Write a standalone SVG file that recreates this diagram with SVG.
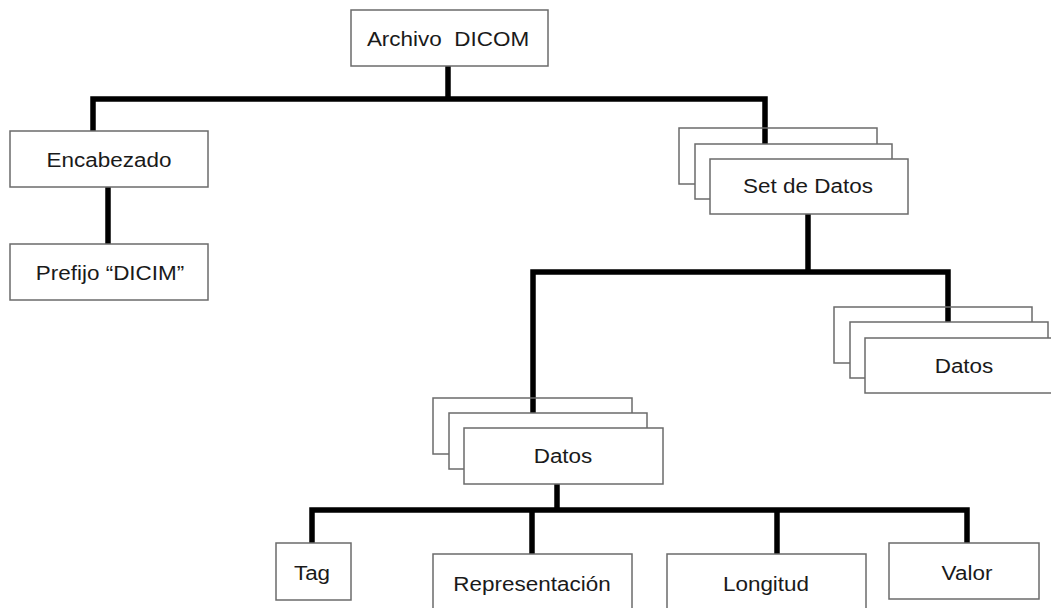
<svg xmlns="http://www.w3.org/2000/svg" width="1051" height="608" viewBox="0 0 1051 608">
<style>
.bx{fill:#fff;stroke:#6b6b6b;stroke-width:1.5}
.bk{fill:none;stroke:#6b6b6b;stroke-width:1.5}
.ln{fill:none;stroke:#000;stroke-width:5.5;stroke-linejoin:miter;stroke-linecap:butt}
.t{font-family:"Liberation Sans",Arial,sans-serif;font-size:21px;fill:#1a1a1a;text-anchor:middle}
</style>
<rect width="1051" height="608" fill="#fff"/>
<g id="connectors">
<path class="ln" d="M93,131 V99 H765 V144"/>
<path class="ln" d="M448,66 V99"/>
<path class="ln" d="M108,187 V244"/>
<path class="ln" d="M808,214 V272"/>
<path class="ln" d="M533,413 V272 H948 V322"/>
<path class="ln" d="M557,484 V510"/>
<path class="ln" d="M312,543 V510 H967 V543"/>
<path class="ln" d="M532,554 V510"/>
<path class="ln" d="M777,554 V510"/>
</g>
<g id="archivo">
<rect class="bx" x="351" y="10" width="197" height="56"/>
<g transform="translate(448,46) scale(1.07 1)"><text class="t">Archivo&#160; DICOM</text></g>
</g>
<g id="encabezado">
<rect class="bx" x="10" y="131" width="198" height="56"/>
<g transform="translate(109,167) scale(1.07 1)"><text class="t">Encabezado</text></g>
</g>
<g id="prefijo">
<rect class="bx" x="10" y="244" width="198" height="56"/>
<g transform="translate(110,280) scale(1.07 1)"><text class="t">Prefijo “DICIM”</text></g>
</g>
<g id="setdatos">
<rect class="bk" x="679" y="128" width="198" height="56"/>
<rect class="bx" x="695" y="144" width="197" height="55"/>
<rect class="bx" x="710" y="159" width="198" height="55"/>
<g transform="translate(808,193) scale(1.07 1)"><text class="t">Set de Datos</text></g>
</g>
<g id="datos-derecha">
<rect class="bk" x="834" y="307" width="198" height="56"/>
<rect class="bx" x="850" y="322" width="198" height="56"/>
<rect class="bx" x="865" y="338" width="198" height="55"/>
<g transform="translate(964,373) scale(1.07 1)"><text class="t">Datos</text></g>
</g>
<g id="datos-abajo">
<rect class="bk" x="433" y="398" width="199" height="56"/>
<rect class="bx" x="449" y="413" width="198" height="56"/>
<rect class="bx" x="464" y="428" width="199" height="56"/>
<g transform="translate(563,463) scale(1.07 1)"><text class="t">Datos</text></g>
</g>
<g id="tag">
<rect class="bx" x="276" y="543" width="75" height="57"/>
<g transform="translate(312,580) scale(1.07 1)"><text class="t">Tag</text></g>
</g>
<g id="representacion">
<rect class="bx" x="433" y="554" width="199" height="62"/>
<g transform="translate(532,591) scale(1.07 1)"><text class="t">Representación</text></g>
</g>
<g id="longitud">
<rect class="bx" x="667" y="554" width="199" height="62"/>
<g transform="translate(766,591) scale(1.07 1)"><text class="t">Longitud</text></g>
</g>
<g id="valor">
<rect class="bx" x="889" y="543" width="150" height="56"/>
<g transform="translate(967,580) scale(1.07 1)"><text class="t">Valor</text></g>
</g>
</svg>
